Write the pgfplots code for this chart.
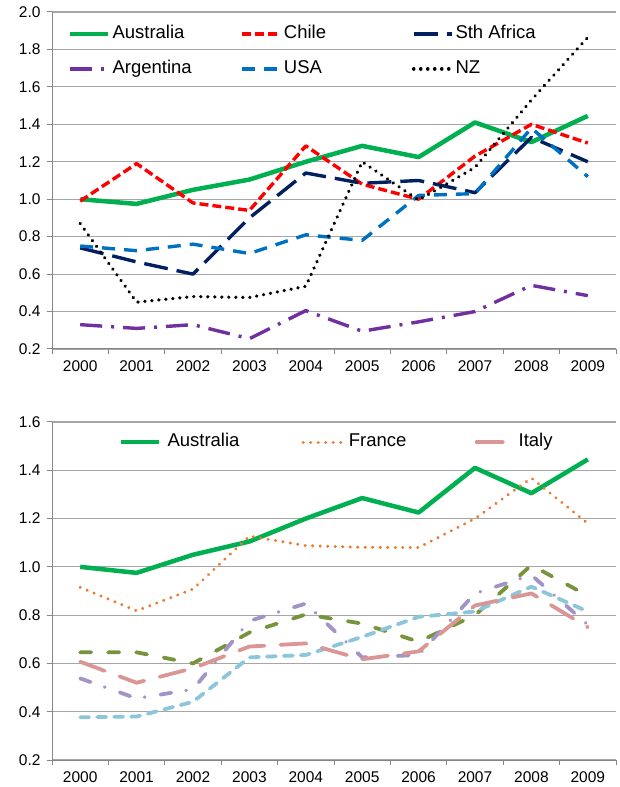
\documentclass[border=0pt]{standalone}
\usepackage{fontspec}
\setmainfont{Liberation Sans}
\usepackage{pgfplots}
\pgfplotsset{compat=1.18}
\definecolor{aus}{HTML}{00B050}
\definecolor{chile}{HTML}{FF0000}
\definecolor{safrica}{HTML}{002060}
\definecolor{argentina}{HTML}{7030A0}
\definecolor{usa}{HTML}{0070C0}
\definecolor{france}{HTML}{E8792E}
\definecolor{italy}{HTML}{D99694}
\definecolor{olive}{HTML}{77933C}
\definecolor{lpurple}{HTML}{A294C6}
\definecolor{lblue}{HTML}{8CC6DA}
\definecolor{gridgray}{HTML}{A6A6A6}
\definecolor{axgray}{HTML}{868686}

\pgfplotsset{
  base/.style={
    scale only axis, width=564pt,
    xmin=-0.5, xmax=9.5,
    axis x line*=bottom, axis y line*=left,
    axis line style={draw=axgray, line width=1pt, -},
    xtick={0,...,9},
    xticklabels={2000,2001,2002,2003,2004,2005,2006,2007,2008,2009},
    minor xtick={-0.5,0.5,...,9.5},
    major x tick style={draw=none},
    minor x tick style={draw=axgray, line width=1pt},
    y tick style={draw=axgray, line width=1pt},
    tick align=outside,
    major tick length=5pt, minor tick length=5pt,
    ymajorgrids,
    grid style={draw=gridgray, line width=1.1pt},
    tick label style={font=\fontsize{15.5}{17}\selectfont},
    /pgf/number format/assume math mode=true,
    yticklabel style={/pgf/number format/.cd, fixed, fixed zerofill, precision=1, /tikz/.cd, xshift=-3pt},
    xticklabel style={yshift=-3.2pt},
    clip=false,
    line join=round,
    legend cell align=left,
    legend image code/.code={\draw[#1] (0pt,0pt) -- (38pt,0pt);},
    legend style={draw=none, fill=none, inner sep=0pt, outer sep=0pt,
      column sep=0pt, anchor=north west,
      font=\fontsize{18.5}{20}\selectfont,
      nodes={inner sep=2pt, text height=13.5pt, text depth=4pt}},
  }
}

\begin{document}
\begin{tikzpicture}[x=1pt,y=1pt]
\path[use as bounding box] (0,0) rectangle (620,787);

% ---------- top chart ----------
\begin{axis}[base,
  at={(52pt,438pt)}, anchor=south west,
  height=337pt,
  ymin=0.2, ymax=2.0,
  ytick={0.2,0.4,...,2.01},
  legend columns=3,
  legend style={at={(0.0284,0.967)}, row sep=13.5pt},
]
\addplot[aus, line width=4.5pt] coordinates {(0,1.00) (1,0.975) (2,1.05) (3,1.105) (4,1.20) (5,1.285) (6,1.225) (7,1.41) (8,1.305) (9,1.445)};
\addlegendentry{\makebox[126pt][l]{Australia}}
\addplot[chile, line width=3.4pt, dash pattern=on 9pt off 4pt] coordinates {(0,0.99) (1,1.19) (2,0.98) (3,0.94) (4,1.285) (5,1.08) (6,1.00) (7,1.23) (8,1.40) (9,1.30)};
\addlegendentry{\makebox[126pt][l]{Chile}}
\addplot[safrica, line width=3.4pt, dash pattern=on 24pt off 9pt] coordinates {(0,0.74) (1,0.665) (2,0.60) (3,0.90) (4,1.14) (5,1.085) (6,1.10) (7,1.035) (8,1.33) (9,1.20)};
\addlegendentry{Sth Africa}
\addplot[argentina, line width=3.4pt, dash pattern=on 22pt off 9pt on 3pt off 9pt] coordinates {(0,0.33) (1,0.31) (2,0.33) (3,0.255) (4,0.405) (5,0.295) (6,0.345) (7,0.40) (8,0.54) (9,0.485)};
\addlegendentry{\makebox[126pt][l]{Argentina}}
\addplot[usa, line width=3.4pt, dash pattern=on 13pt off 9pt] coordinates {(0,0.75) (1,0.725) (2,0.76) (3,0.71) (4,0.81) (5,0.78) (6,1.02) (7,1.03) (8,1.38) (9,1.12)};
\addlegendentry{\makebox[126pt][l]{USA}}
\addplot[black, line width=3.6pt, line cap=round, dash pattern=on 0.01pt off 7pt] coordinates {(0,0.87) (1,0.45) (2,0.48) (3,0.475) (4,0.535) (5,1.20) (6,0.995) (7,1.17) (8,1.53) (9,1.865)};
\addlegendentry{NZ}
\end{axis}

% ---------- bottom chart ----------
\begin{axis}[base,
  at={(52pt,27pt)}, anchor=south west,
  height=338pt,
  ymin=0.2, ymax=1.6,
  ytick={0.2,0.4,...,1.61},
  legend columns=3,
  legend style={at={(0.1188,0.972)}},
]
\addplot[olive, line width=3.8pt, line cap=round, dash pattern=on 11pt off 17pt, forget plot] coordinates {(0,0.646) (1,0.646) (2,0.60) (3,0.728) (4,0.803) (5,0.765) (6,0.69) (7,0.80) (8,1.007) (9,0.88)};
\addplot[lpurple, line width=3.8pt, line cap=round, dash pattern=on 11pt off 15pt on 0.01pt off 16pt, forget plot] coordinates {(0,0.538) (1,0.455) (2,0.493) (3,0.776) (4,0.848) (5,0.625) (6,0.635) (7,0.89) (8,0.966) (9,0.76)};
\addplot[lblue, line width=3.8pt, line cap=round, dash pattern=on 9pt off 8pt, forget plot] coordinates {(0,0.377) (1,0.38) (2,0.441) (3,0.625) (4,0.635) (5,0.71) (6,0.793) (7,0.815) (8,0.918) (9,0.815)};
\addplot[aus, line width=4.5pt] coordinates {(0,1.00) (1,0.975) (2,1.05) (3,1.105) (4,1.20) (5,1.285) (6,1.225) (7,1.41) (8,1.305) (9,1.445)};
\addlegendentry{\makebox[136pt][l]{\hspace{4pt}Australia}}
\addplot[france, line width=3.3pt, line cap=round, dash pattern=on 0.01pt off 7.5pt] coordinates {(0,0.915) (1,0.818) (2,0.908) (3,1.127) (4,1.088) (5,1.081) (6,1.08) (7,1.20) (8,1.368) (9,1.18)};
\addlegendentry{\makebox[128pt][l]{\hspace{4pt}France}}
\addplot[italy, line width=3.8pt, line cap=round, dash pattern=on 26pt off 16pt] coordinates {(0,0.607) (1,0.52) (2,0.58) (3,0.67) (4,0.683) (5,0.617) (6,0.65) (7,0.84) (8,0.89) (9,0.75)};
\addlegendentry{Italy}
\end{axis}
\end{tikzpicture}
\end{document}
